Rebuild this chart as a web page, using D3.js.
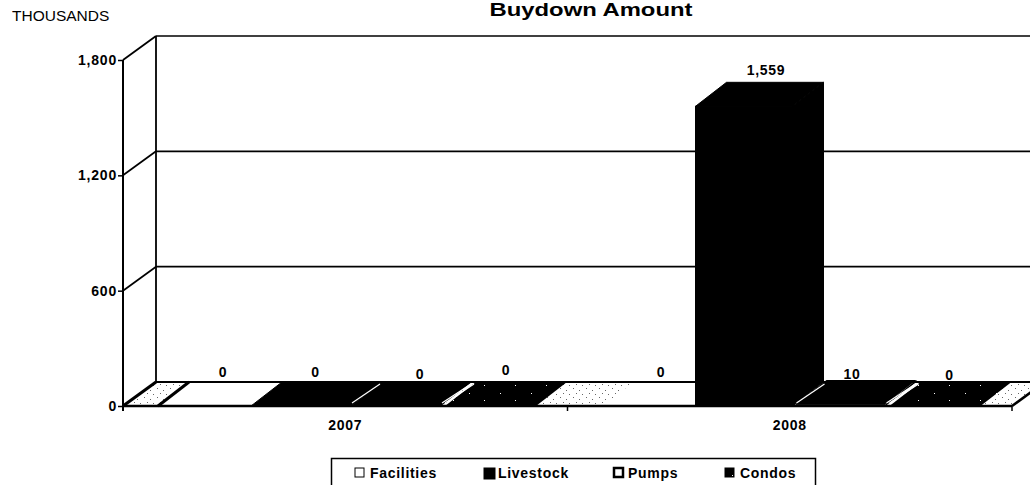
<!DOCTYPE html>
<html>
<head>
<meta charset="utf-8">
<script src="https://cdn.jsdelivr.net/npm/d3@7"></script>
<style>
    body { margin: 0; background: white; overflow: hidden; }
    text { font-family: "Liberation Sans", Arial, sans-serif; fill: black; }
    .bold { font-weight: bold; font-size: 14px; letter-spacing: 0.7px; }
    .y-axis text { font-weight: bold; font-size: 14px; letter-spacing: 0.8px; }
</style>
</head>
<body>
<div id="chart"></div>
<script>
// values
const years = ["2007", "2008"];
const seriesNames = ["Facilities", "Livestock", "Pumps", "Condos"];
const facilities = [0, 0];
const livestock = [0, 1559];
const pumps = [0, 10];
const condos = [0, 0];
const yTicks = [0, 600, 1200, 1800];

const allSeries = [facilities, livestock, pumps, condos];
const barFills = ["white", "black", "black", "url(#darkSpeckle)"];
const swatchFills = ["white", "black", "white", "url(#darkSpeckle)"];
// small shifts of the value labels, the scan does not centre them
const labelNudge = [[2, -2, 7.5, -1], [-4.5, 4, -5, -2]];
const labelLift = [[0, 0, 2, -2], [0, -2, 4, 3]];

const width = 1030, height = 485;
const depth = { x: 33, y: -24 };
const barDepthX = 31;

const svg = d3.select("#chart").append("svg")
    .attr("width", width)
    .attr("height", height)
    .style("display", "block");

// fill patterns for the scanned dither
const defs = svg.append("defs");
const light = defs.append("pattern")
    .attr("id", "lightSpeckle")
    .attr("width", 13).attr("height", 9)
    .attr("patternUnits", "userSpaceOnUse");
light.append("rect").attr("width", 13).attr("height", 9).attr("fill", "white");
[[1, 1], [7, 3], [4, 6], [10, 7]].forEach(p => {
    light.append("rect").attr("x", p[0]).attr("y", p[1])
        .attr("width", 1).attr("height", 1).attr("fill", "#666");
});
const dark = defs.append("pattern")
    .attr("id", "darkSpeckle")
    .attr("width", 31).attr("height", 15)
    .attr("patternUnits", "userSpaceOnUse");
dark.append("rect").attr("width", 31).attr("height", 15).attr("fill", "black");
[[4, 3], [19, 10]].forEach(p => {
    dark.append("rect").attr("x", p[0]).attr("y", p[1])
        .attr("width", 1).attr("height", 1).attr("fill", "white");
});

// Scales
const x0 = d3.scaleBand().domain(years).range([123, 1012]);
// bars are not quite even in the picture, so edges go through ordinal scales
const barLeft = d3.scaleOrdinal().domain(seriesNames).range([35, 128, 228, 322]);
const barRight = d3.scaleOrdinal().domain(seriesNames).range([128, 228, 318, 413]);
const y = d3.scaleLinear().domain([0, 1800]).range([406, 60]);

const line = (x1, y1, x2, y2, w, color) => svg.append("line")
    .attr("x1", x1).attr("y1", y1)
    .attr("x2", x2).attr("y2", y2)
    .attr("stroke", color || "black")
    .attr("stroke-width", w);

// back wall gridlines and the side wall
yTicks.forEach(t => {
    if (t > 0) line(x0.range()[0], y(t), x0.range()[0] + depth.x, y(t) + depth.y, 1.8);
    if (t > 0) line(x0.range()[0] + depth.x, y(t) + depth.y, width, y(t) + depth.y, 1.6);
});
line(x0.range()[0] + depth.x, y(1800) + depth.y, x0.range()[0] + depth.x, y(0) + depth.y, 1.8);

// floor
const floorPts = [
    [x0.range()[0], y(0)],
    [x0.range()[1], y(0)],
    [x0.range()[1] + depth.x, y(0) + depth.y],
    [x0.range()[0] + depth.x, y(0) + depth.y]
];
svg.append("polygon")
    .attr("points", floorPts.join(" "))
    .attr("fill", "url(#lightSpeckle)");

// bars, drawn left to right
years.forEach((year, i) => {
    seriesNames.forEach((name, j) => {
        const v = allSeries[j][i];
        const left = x0(year) + barLeft(name);
        // the tall bar stops a little short of its neighbour
        const right = x0(year) + barRight(name) - (v > 100 ? 3 : 0);
        const top = y(v);
        const fill = barFills[j];
        const edge = j === 1 ? "black" : "none";

        if (v > 0) {
            svg.append("polygon")
                .attr("points", [[right, y(0)], [right + barDepthX, y(0) + depth.y],
                    [right + barDepthX, top + depth.y], [right, top]].join(" "))
                .attr("fill", fill)
                .attr("stroke", edge);
            svg.append("rect")
                .attr("x", left).attr("y", top)
                .attr("width", right - left).attr("height", y(0) - top)
                .attr("fill", fill)
                .attr("stroke", edge);
        }
        svg.append("polygon")
            .attr("points", [[left, top], [right, top],
                [right + barDepthX, top + depth.y], [left + barDepthX, top + depth.y]].join(" "))
            .attr("fill", fill)
            .attr("stroke", edge);
    });
});

// floor edges on top of the flat bars
line(x0.range()[0], y(0), x0.range()[1], y(0), 2.5);
line(x0.range()[0] + depth.x, y(0) + depth.y, x0.range()[1] + depth.x, y(0) + depth.y, 2);
line(x0.range()[0], y(0), x0.range()[0] + depth.x, y(0) + depth.y, 3);
line(x0(years[0]) + barLeft("Facilities"), y(0), x0(years[0]) + barLeft("Facilities") + barDepthX, y(0) + depth.y, 3);
line(x0.range()[1], y(0), x0.range()[1] + depth.x, y(0) + depth.y, 2.5);

// white seams between the dark bars
years.forEach(year => {
    const a = x0(year) + barLeft("Pumps");
    const b = x0(year) + barRight("Pumps");
    const c = x0(year) + barLeft("Condos");
    line(a + 1, y(0) - 3, a + barDepthX - 2, y(0) + depth.y + 2, 1.2, "white");
    line(b + 1, y(0) - 3, b + barDepthX - 1, y(0) + depth.y + 2, 1.2, "white");
    line(c, y(0) - 3, c + barDepthX - 2, y(0) + depth.y + 2, 1.2, "white");
});

// value labels
years.forEach((year, i) => {
    seriesNames.forEach((name, j) => {
        const v = allSeries[j][i];
        svg.append("text")
            .attr("class", "bold")
            .attr("x", x0(year) + (barLeft(name) + barRight(name)) / 2 + depth.x / 2 + labelNudge[i][j])
            .attr("y", y(v) + depth.y - 5 + labelLift[i][j])
            .attr("text-anchor", "middle")
            .text(d3.format(",")(v));
    });
});

// Axes
const yAxis = d3.axisLeft(y)
    .tickValues(yTicks)
    .tickSize(5)
    .tickPadding(1)
    .tickFormat(d3.format(","));

const yAxisGroup = svg.append("g")
    .attr("class", "y-axis")
    .attr("transform", "translate(" + x0.range()[0] + ",0)")
    .call(yAxis);
yAxisGroup.select(".domain").remove();
yAxisGroup.selectAll("line").attr("stroke-width", 1.5);

line(x0.range()[0], y(1800), x0.range()[0], y(0) + 5, 2);

// category ticks and labels
x0.domain().concat("end").forEach(d => {
    const xPos = d === "end" ? x0.range()[1] : x0(d);
    line(xPos, y(0), xPos, y(0) + 5, 1.5);
});
svg.append("g").selectAll("text")
    .data(years)
    .enter()
    .append("text")
    .attr("class", "bold")
    .attr("x", d => x0(d) + x0.bandwidth() / 2)
    .attr("y", 430)
    .attr("text-anchor", "middle")
    .text(d => d);

// titles, the scanned title is stretched wide so fit it to its width
svg.append("text")
    .attr("x", 591)
    .attr("y", 16)
    .attr("text-anchor", "middle")
    .attr("font-weight", "bold")
    .attr("font-size", 17.5)
    .attr("textLength", 203)
    .attr("lengthAdjust", "spacingAndGlyphs")
    .text("Buydown Amount");

svg.append("text")
    .attr("x", 12)
    .attr("y", 21)
    .attr("font-size", 15.5)
    .text("THOUSANDS");

// legend
svg.append("rect")
    .attr("x", 331.5).attr("y", 458.5)
    .attr("width", 484).attr("height", 40)
    .attr("fill", "white")
    .attr("stroke", "black")
    .attr("stroke-width", 1.5);

const swatchX = d3.scaleOrdinal().domain(seriesNames).range([355, 484, 614, 725]);
const swatchSize = d3.scaleOrdinal().domain(seriesNames).range([9, 11, 9, 9]);
const legendTextX = d3.scaleOrdinal().domain(seriesNames).range([370, 498, 628, 740]);
seriesNames.forEach((name, j) => {
    svg.append("rect")
        .attr("x", swatchX(name)).attr("y", 468)
        .attr("width", swatchSize(name)).attr("height", swatchSize(name))
        .attr("fill", swatchFills[j])
        .attr("stroke", "black")
        .attr("stroke-width", name === "Pumps" ? 2.5 : 1);
    svg.append("text")
        .attr("class", "bold")
        .attr("x", legendTextX(name))
        .attr("y", 478)
        .text(name);
});
</script>
</body>
</html>
